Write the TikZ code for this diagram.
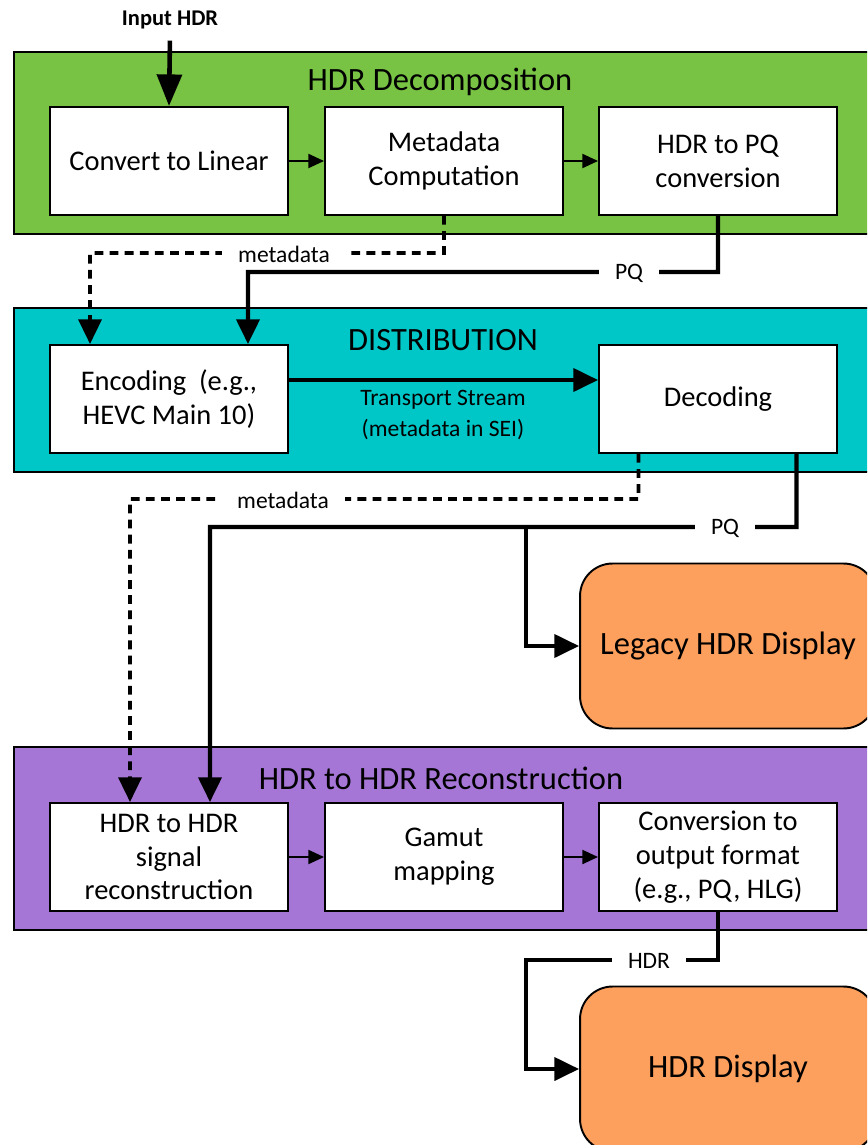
\documentclass[tikz,border=0pt]{standalone}
\usepackage{fontspec}
\setmainfont{Carlito}
\usetikzlibrary{arrows.meta}
\definecolor{decgreen}{RGB}{120,194,68}
\definecolor{distcyan}{RGB}{0,199,199}
\definecolor{recpurple}{RGB}{165,118,214}
\definecolor{disporange}{RGB}{253,160,93}
\begin{document}
\begin{tikzpicture}[x=0.02cm,y=-0.02cm,
frame/.style ={draw=black, line width=1.2pt},
title/.style ={font=\fontsize{18.5}{22}\selectfont},
block/.style ={rectangle, draw=black, line width=1.1pt, fill=white,
  minimum width=4.76cm, minimum height=2.16cm, align=center,
  font=\fontsize{16.2}{19.3}\selectfont
},
display/.style ={rectangle, draw=black, line width=1.1pt, fill=disporange,
  rounded corners=0.65cm, minimum width=5.92cm, minimum height=3.3cm,
  font=\fontsize{18.5}{22}\selectfont
},
lbl/.style ={fill=white, inner xsep=9pt, inner ysep=3pt, align=center,
  font=\fontsize{13.4}{18}\selectfont
},
thin/.style ={line width=1.2pt, -{Triangle[length=9pt,width=8pt]}},
thickline/.style ={line width=2.3pt},
dashline/.style ={line width=2.1pt, dash pattern=on 5pt off 3.6pt},
tip/.style ={-{Triangle[length=14pt,width=13pt]}}
]
\useasboundingbox (0,0) rectangle (867,1145);
\clip (0,0) rectangle (867,1145);

% frames
\draw[frame, fill=decgreen] (14,52) rectangle (880,234);
\draw[frame, fill=distcyan] (14,308) rectangle (880,472);
\draw[frame, fill=recpurple] (14,747) rectangle (880,930);

\node (tdec) at (440,82) [title] {HDR Decomposition};
\node (tdist) at (443,340) [title] {DISTRIBUTION};
\node (trec) at (441,778) [title] {HDR to HDR Reconstruction};

% first row
\node (conv) at (169,161) [block] {Convert to Linear};
\node (meta) at (444,161) [block] {Metadata\\Computation};
\node (pq) at (718,161) [block] {HDR to PQ\\conversion};

% second row
\node (enc) at (169,399) [block] {Encoding~ (e.g.,\\HEVC Main 10)};
\node (dec) at (718,399) [block] {Decoding};

% displays
\node (legacy) at (728,646) [display] {Legacy HDR Display};
\node (hdrdisp) at (728,1069) [display] {HDR Display};

% third row
\node (rec) at (169,857) [block] {HDR to HDR\\signal\\reconstruction};
\node (gam) at (444,857) [block] {Gamut\\mapping};
\node (outc) at (718,857) [block] {Conversion to\\output format\\(e.g., PQ, HLG)};

\node (inlab) at (170,20) [font=\fontsize{12.8}{15}\selectfont\bfseries] {Input HDR};

% connectors
\draw[thickline, line width=2.6pt, -{Triangle[length=18pt,width=14pt]}, shorten <=3pt] (inlab.south) -- (conv.north);
\draw[thin] (conv) -- (meta);
\draw[thin] (meta) -- (pq);
\draw[thin] (rec) -- (gam);
\draw[thin] (gam) -- (outc);

\draw[dashline, tip] (meta.south) |- (90,253) -- ([xshift=-1.58cm]enc.north);
\draw[thickline, tip] (pq.south) |- (248,272) -- ([xshift=1.58cm]enc.north);
\draw[thickline, tip] ([yshift=0.38cm]enc.east) -- ([yshift=0.38cm]dec.west);

\draw[dashline, tip] ([xshift=-1.59cm]dec.south) |- (130,499) -- ([xshift=-0.78cm]rec.north);
\draw[thickline, tip] ([xshift=1.57cm]dec.south) |- (210,527) -- ([xshift=0.82cm]rec.north);
\draw[thickline, tip] (526,527) |- (legacy.west);
\draw[thickline, tip] (outc.south) |- (526,960) |- (hdrdisp.west);

% labels on the lines
\node (mlab1) at (284,254) [lbl] {metadata};
\node (pqlab1) at (629,273) [lbl] {PQ};
\node (tslab) at (443,415) [lbl, fill=none] {Transport Stream\\(metadata in SEI)};
\node (mlab2) at (283,500) [lbl] {metadata};
\node (pqlab2) at (725,528) [lbl] {PQ};
\node (hlab) at (649,961) [lbl] {HDR};
\end{tikzpicture}
\end{document}
